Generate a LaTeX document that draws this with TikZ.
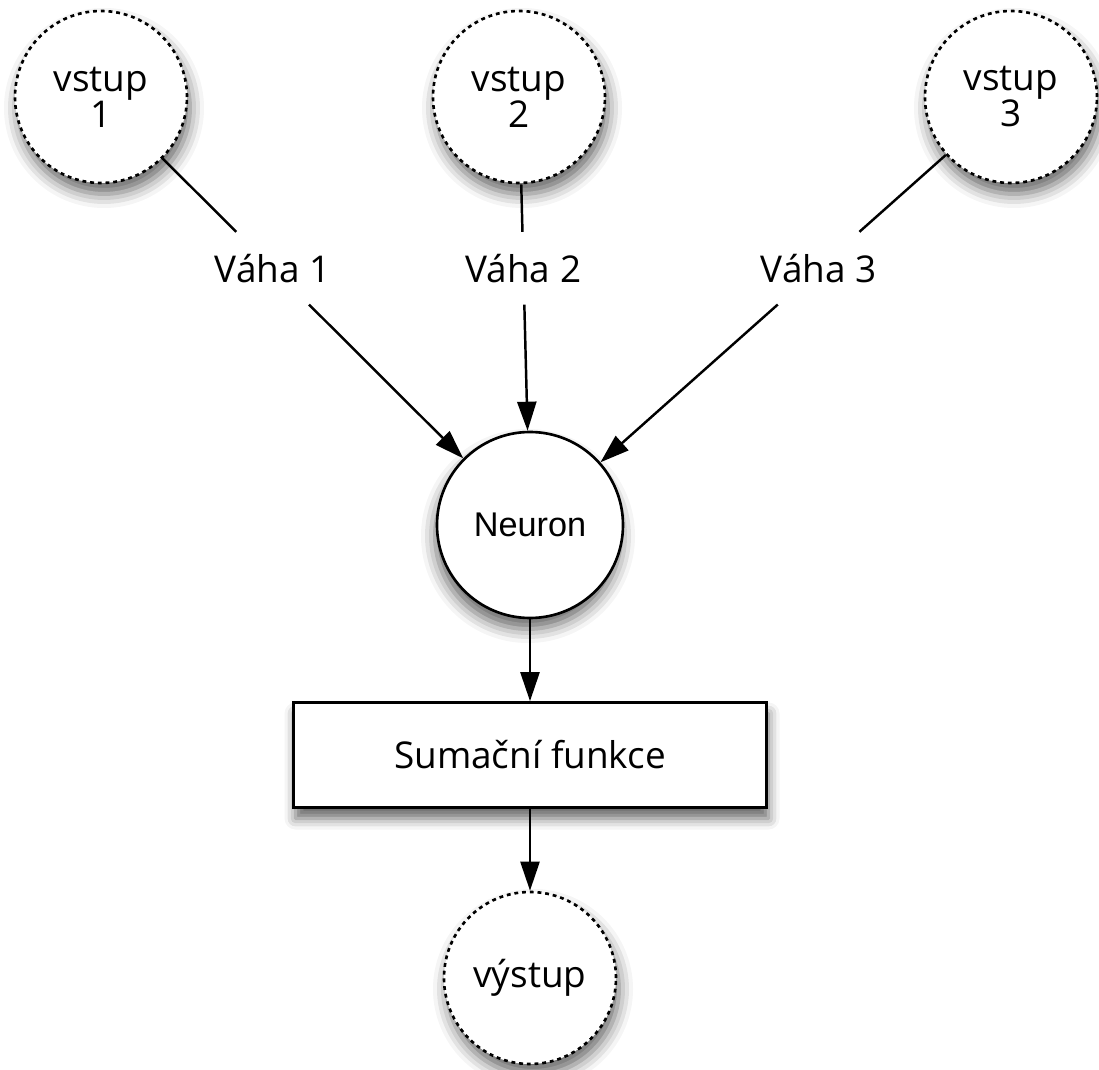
\documentclass[tikz,border=0pt]{standalone}
\usepackage{fontspec}
\setmainfont{Open Sans}
\newfontfamily\neuronfont{Liberation Sans}
\usetikzlibrary{arrows.meta,calc,shadows.blur}

\begin{document}
\begin{tikzpicture}[x=0.2mm, y=-0.2mm,
    ioStyle/.style={draw, circle, dash pattern=on 2.2pt off 2.2pt, line width=1.5pt, fill=white, minimum size=34.4mm, inner sep=0pt, align=center, font=\fontsize{21}{20.5}\selectfont, blur shadow={shadow xshift=0.6mm, shadow yshift=-2.2mm, shadow blur radius=2.8mm, shadow opacity=60}},
    neuronStyle/.style={draw, circle, line width=1.5pt, fill=white, minimum size=37.2mm, inner sep=0pt, font=\neuronfont\fontsize{19.5}{22}\selectfont, blur shadow={shadow xshift=-0.4mm, shadow yshift=-2.2mm, shadow blur radius=2.8mm, shadow opacity=60}},
    sumStyle/.style={draw, line width=1.5pt, fill=white, minimum width=94.6mm, minimum height=21mm, inner sep=0pt, font=\fontsize{21}{24}\selectfont, blur shadow={shadow xshift=0.4mm, shadow yshift=-2.2mm, shadow blur radius=2.2mm, shadow opacity=60}},
    weightStyle/.style={minimum height=14.4mm, inner xsep=2pt, inner ysep=0pt, font=\fontsize{21}{24}\selectfont},
    lineStyle/.style={line width=1.4pt},
    arrowStyle/.style={-{Triangle[length=5.8mm, width=3.8mm]}, line width=1.4pt}]

    \useasboundingbox (0, 0) rectangle (1099, 1070);

    % inputs, neuron and output
    \node[ioStyle] (in1) at (101, 97) {vstup\\1};
    \node[ioStyle] (in2) at (519, 97) {vstup\\2};
    \node[ioStyle] (in3) at (1011, 97) {vstup\\3};
    \node[neuronStyle] (neuron) at (530, 525) {Neuron};
    \node[sumStyle] (sum) at (530, 755) {Sumační funkce};
    \node[ioStyle] (out) at (530, 978) {výstup};

    % weights on the input connectors
    \node[weightStyle] (w1) at ($(in1)!0.4!(neuron)$) {Váha 1};
    \node[weightStyle] (w2) at ($(in2)!0.4!(neuron)$) {Váha 2};
    \node[weightStyle] (w3) at ($(in3)!0.4!(neuron)$) {Váha 3};

    \draw[lineStyle] (in1) -- (w1);
    \draw[arrowStyle] (w1) -- (neuron);
    \draw[lineStyle] (in2) -- (w2);
    \draw[arrowStyle] (w2) -- (neuron);
    \draw[lineStyle] (in3) -- (w3);
    \draw[arrowStyle] (w3) -- (neuron);
    \draw[arrowStyle] (neuron) -- (sum);
    \draw[arrowStyle] (sum) -- (out);
\end{tikzpicture}
\end{document}
